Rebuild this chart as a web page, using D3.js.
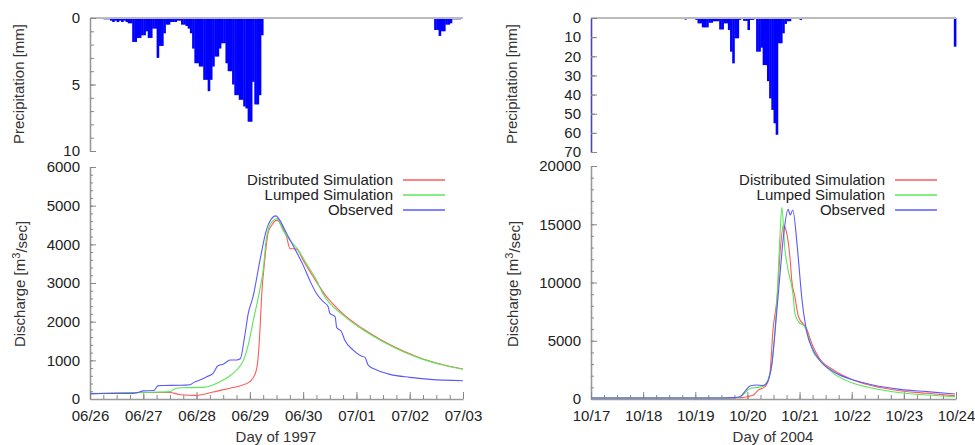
<!DOCTYPE html>
<head>
    <meta charset="utf-8">
    <title>Precipitation and discharge, 1997 and 2004</title>
    <script src="https://d3js.org/d3.v7.min.js"></script>
    <style>
        body{ margin: 0; background: #fff; }
        text{
            font-family: "Liberation Sans", Arial, sans-serif;
            font-size: 15px;
            fill: #222;
        }
        text.axisTitle{ fill: #333; }
        .axis path.domain{ stroke: #999; stroke-width: 1.6; }
        .axis .tick line{ stroke: #888; }
    </style>
</head>
<body>
<script>
    // ---- data ----
    const days1997 = ["06/26", "06/27", "06/28", "06/29", "06/30", "07/01", "07/02", "07/03"];
    const days2004 = ["10/17", "10/18", "10/19", "10/20", "10/21", "10/22", "10/23", "10/24"];

    // hourly rain, [hour since first day, mm]
    const rain1997 = [
        [6,0.1],[7,0.1],[8,0.1],[9,0.2],[10,0.3],[11,0.2],[12,0.3],[13,0.2],[14,0.3],[15,0.2],[16,0.3],
        [17,0.4],[18,0.4],[19,1.8],[20,1.8],[21,1.5],[22,1.5],[23,1.3],[24,1.3],[25,1.0],[26,1.5],[27,1.5],
        [28,0.8],[29,0.8],[30,3.0],[31,2.1],[32,2.1],[33,1.15],[34,0.5],[35,0.5],[36,0.3],[37,0.3],[38,0.3],
        [39,0.2],[40,0.2],[41,0.5],[42,0.5],[43,0.6],[44,0.8],[45,1.15],[46,2.3],[47,3.4],[48,3.4],[49,3.65],
        [50,3.65],[51,4.65],[52,4.65],[53,5.5],[54,4.65],[55,3.65],[56,2.9],[57,2.9],[58,2.3],[59,1.9],[60,1.9],
        [61,3.4],[62,4.0],[63,4.0],[64,5.0],[65,5.8],[66,5.8],[67,6.15],[68,6.15],[69,6.65],[70,6.8],[71,7.8],
        [72,7.8],[73,4.8],[74,6.5],[75,6.5],[76,5.8],[77,1.3],[80,0.05],[82,0.05],[85,0.05],
        [155,0.9],[156,0.9],[157,1.35],[158,1.0],[159,1.0],[160,0.5],[161,0.5],[162,0.4],
        [163,0.1],[164,0.1],[165,0.1],[166,0.1]
    ];
    const rain2004 = [
        [43,0.8],[48,1.0],[49,2.8],[50,2.8],[51,4.9],[52,4.9],[53,4.9],[54,2.5],[55,2.5],[56,1.7],[57,1.7],
        [58,1.7],[59,6.0],[60,6.0],[61,2.8],[62,2.8],[63,6.3],[64,17.6],[65,23.7],[66,10.6],[67,10.6],[68,1.0],
        [70,1.5],[71,1.5],[72,6.3],[73,1.0],[74,1.0],[75,0.5],[76,17.6],[77,17.6],[78,15.5],[79,24.6],[80,24.6],
        [81,33],[82,42],[83,48],[84,55],[85,61],[86,13.2],[87,13.2],[88,8],[89,3.1],[90,1.7],[91,1.7],[92,0.5],
        [96,1.0],[167,15]
    ];

    // discharge, [day since first day, m3/s]
    const dist1997 = [[0,140],[1.0,170],[1.5,170],[1.7,110],[2.0,95],[2.31,181],[2.63,280],[2.81,336],[3.0,448],
        [3.1,650],[3.15,1000],[3.19,1783],[3.22,2645],[3.28,3592],[3.34,4281],[3.41,4496],[3.51,4625],[3.59,4496],
        [3.69,4194],[3.75,3894],[3.88,3876],[4.0,3592],[4.19,3160],[4.41,2700],[4.75,2200],[5.13,1810],[5.5,1500],
        [5.88,1240],[6.25,1035],[6.63,885],[7.0,775]];
    const lumped1997 = [[0,140],[1.0,170],[1.5,190],[1.6,270],[1.72,290],[2.12,300],[2.31,362],[2.44,448],[2.63,600],
        [2.75,750],[2.88,1000],[2.97,1400],[3.06,2000],[3.19,2850],[3.25,3333],[3.31,4152],[3.41,4582],[3.51,4668],
        [3.62,4367],[3.75,4108],[3.91,3850],[4.06,3506],[4.25,3075],[4.38,2700],[4.75,2171],[5.13,1783],[5.5,1482],
        [5.88,1223],[6.25,1025],[6.63,878],[7.0,767]];
    const obs1997 = [[0,140],[0.8,145],[0.9,170],[1.0,210],[1.2,220],[1.27,340],[1.35,350],[1.7,355],[1.88,370],
        [1.95,430],[2.06,490],[2.19,577],[2.31,663],[2.4,860],[2.5,900],[2.63,1010],[2.75,1010],[2.82,1040],
        [2.9,1600],[2.97,2215],[3.06,2645],[3.19,3592],[3.31,4367],[3.38,4608],[3.49,4737],[3.56,4625],[3.69,4281],
        [3.84,3894],[4.0,3462],[4.13,3050],[4.25,2730],[4.38,2515],[4.47,2386],[4.5,2215],[4.6,2128],[4.63,1850],
        [4.72,1740],[4.78,1525],[4.94,1266],[5.09,1111],[5.16,1077],[5.22,878],[5.38,749],[5.63,637],[6.0,560],
        [6.38,508],[7.0,473]];

    const dist2004 = [[0,80],[2.5,80],[2.9,120],[2.99,200],[3.11,320],[3.21,770],[3.34,1060],[3.43,2200],[3.49,5920],
        [3.57,8780],[3.63,12790],[3.69,14940],[3.74,14500],[3.82,11930],[3.85,10200],[3.91,8780],[3.98,7060],
        [4.13,6070],[4.26,4490],[4.38,3490],[4.65,2490],[5.03,1630],[5.41,1116],[5.93,710],[6.44,490],[6.98,280]];
    const lumped2004 = [[0,80],[2.5,80],[2.75,110],[2.85,180],[2.95,500],[3.05,900],[3.2,1000],[3.3,1100],[3.4,1700],
        [3.47,3000],[3.53,6000],[3.57,8780],[3.63,14500],[3.66,16450],[3.72,12790],[3.78,11070],[3.88,8780],
        [3.91,7350],[3.98,6640],[4.1,6200],[4.17,5350],[4.26,4060],[4.38,3350],[4.65,2200],[5.03,1350],[5.41,920],
        [5.93,540],[6.44,340],[6.98,200]];
    const obs2004 = [[0,80],[2.5,80],[2.75,120],[2.86,200],[2.95,630],[3.05,1116],[3.18,1200],[3.3,1150],[3.37,1345],
        [3.47,3060],[3.56,7350],[3.63,11000],[3.69,13930],[3.78,16280],[3.82,15800],[3.87,16220],[3.95,13360],
        [4.01,10300],[4.04,8780],[4.13,5920],[4.26,4200],[4.38,3350],[4.65,2340],[5.03,1630],[5.41,1200],
        [5.93,830],[6.44,630],[6.98,430]];

    const seriesNames = ["Distributed Simulation", "Lumped Simulation", "Observed"];
    const seriesColors = ["#ff5a5a", "#5ae65a", "#5a5aff"];

    const panels = [
        {x0: 90, x1: 463, pTop: 18, pBot: 151, pMax: 10, pTicks: [0, 5, 10], pMinor: d3.range(0, 11, 1),
         qTop: 167, qBot: 399, qMax: 6000, qTicks: d3.range(0, 6001, 1000), qMinor: d3.range(0, 6001, 200),
         days: days1997, rain: rain1997, series: [dist1997, lumped1997, obs1997],
         title: "Day of 1997", titleX: 276, labelX: 20, legendX: 393, pAxisColor: "#999"},
        {x0: 591, x1: 956, pTop: 18, pBot: 152, pMax: 70, pTicks: d3.range(0, 71, 10), pMinor: d3.range(0, 71, 10),
         qTop: 166, qBot: 399, qMax: 20000, qTicks: d3.range(0, 20001, 5000), qMinor: d3.range(0, 20001, 1000),
         days: days2004, rain: rain2004, series: [dist2004, lumped2004, obs2004],
         title: "Day of 2004", titleX: 773, labelX: 513, legendX: 885, pAxisColor: "#4646b4"}
    ];

    const fmt = d3.format("d");

    const svg = d3.select("body").append("svg")
        .attr("width", 975)
        .attr("height", 445);

    panels.forEach(p => {
        let x = d3.scaleLinear().domain([0, 7]).range([p.x0, p.x1]);
        let yP = d3.scaleLinear().domain([0, p.pMax]).range([p.pTop, p.pBot]);
        let yQ = d3.scaleLinear().domain([0, p.qMax]).range([p.qBot, p.qTop]);

        //precipitation bars hanging from the top
        svg.append("g").selectAll("rect")
            .data(p.rain)
            .enter()
            .append("rect")
            .attr("x", d => x(d[0] / 24))
            .attr("width", d => x((d[0] + 1) / 24) - x(d[0] / 24) + 0.4)
            .attr("y", yP(0))
            .attr("height", d => Math.max(yP(d[1]) - yP(0), 1))
            .style("fill", "#0000ff");

        //top line of the precipitation panel
        svg.append("line")
            .attr("x1", x(0)).attr("x2", x(7))
            .attr("y1", yP(0)).attr("y2", yP(0))
            .style("stroke", "#bbb")
            .style("stroke-width", 2);

        //precipitation axis
        let pMinorG = svg.append("g")
            .attr("class", "axis")
            .attr("transform", `translate(${p.x0},0)`)
            .call(d3.axisLeft(yP).tickValues(p.pMinor).tickSizeInner(-4).tickSizeOuter(0).tickFormat(""));
        pMinorG.select(".domain").style("stroke", p.pAxisColor);
        svg.append("g")
            .attr("class", "axis")
            .attr("transform", `translate(${p.x0},0)`)
            .call(d3.axisLeft(yP).tickValues(p.pTicks).tickSizeInner(-6).tickSizeOuter(0).tickPadding(10).tickFormat(fmt))
            .select(".domain").remove();

        //discharge axes
        svg.append("g")
            .attr("class", "axis")
            .attr("transform", `translate(${p.x0},0)`)
            .call(d3.axisLeft(yQ).tickValues(p.qMinor).tickSizeInner(-3).tickSizeOuter(0).tickFormat(""));
        svg.append("g")
            .attr("class", "axis")
            .attr("transform", `translate(${p.x0},0)`)
            .call(d3.axisLeft(yQ).tickValues(p.qTicks).tickSizeInner(-6).tickSizeOuter(0).tickPadding(10).tickFormat(fmt))
            .select(".domain").remove();

        svg.append("g")
            .attr("class", "axis")
            .attr("transform", `translate(0,${p.qBot})`)
            .call(d3.axisBottom(x).tickValues(d3.range(0, 7.01, 0.25)).tickSizeInner(-4).tickSizeOuter(0).tickFormat(""));
        svg.append("g")
            .attr("class", "axis")
            .attr("transform", `translate(0,${p.qBot})`)
            .call(d3.axisBottom(x).tickValues(d3.range(0, 8)).tickSizeInner(-7).tickSizeOuter(0).tickPadding(11)
                .tickFormat(i => p.days[i]))
            .select(".domain").remove();

        //discharge lines
        let line = d3.line()
            .x(d => x(d[0]))
            .y(d => yQ(d[1]))
            .curve(d3.curveMonotoneX);

        p.series.forEach((s, i) => {
            svg.append("path")
                .datum(s)
                .attr("d", line)
                .style("fill", "none")
                .style("stroke", seriesColors[i])
                .style("stroke-width", 1.1);
        });

        //legend
        seriesNames.forEach((name, i) => {
            let ly = 180 + i * 15;
            svg.append("text")
                .attr("x", p.legendX)
                .attr("y", ly + 5)
                .style("text-anchor", "end")
                .text(name);
            svg.append("line")
                .attr("x1", p.legendX + 10).attr("x2", p.legendX + 52)
                .attr("y1", ly).attr("y2", ly)
                .style("stroke", seriesColors[i])
                .style("stroke-width", 1.5);
        });

        //axis titles
        svg.append("text")
            .attr("class", "axisTitle")
            .attr("x", p.titleX)
            .attr("y", 442)
            .style("text-anchor", "middle")
            .text(p.title);

        svg.append("text")
            .attr("class", "axisTitle")
            .attr("transform", `translate(${p.labelX - 1},84) rotate(-90)`)
            .attr("dy", "0.35em")
            .style("text-anchor", "middle")
            .text("Precipitation [mm]");

        let qLabel = svg.append("text")
            .attr("class", "axisTitle")
            .attr("transform", `translate(${p.labelX},284) rotate(-90)`)
            .attr("dy", "0.35em")
            .style("text-anchor", "middle");
        qLabel.append("tspan").text("Discharge [m");
        qLabel.append("tspan").attr("dy", "-0.45em").style("font-size", "11px").text("3");
        qLabel.append("tspan").attr("dy", "0.45em").text("/sec]");
    });
</script>
</body>
